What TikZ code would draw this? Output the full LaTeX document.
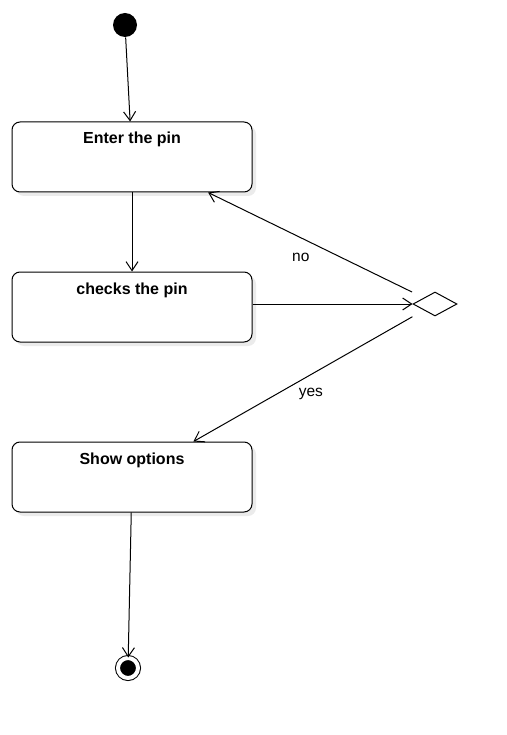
\documentclass[tikz,border=0pt]{standalone}
\usepackage{fontspec}
\setmainfont{Liberation Sans}
\usepackage{tikz}
\usetikzlibrary{shapes.geometric, arrows.meta, shadows}

\begin{document}
\begin{tikzpicture}[x=1pt, y=-1pt, line width=1pt,
        >={Straight Barb[length=9pt, width=12pt]},
        every node/.style={font=\fontsize{15.5}{18}\selectfont},
        state/.style={draw, fill=white, rounded corners=8pt, minimum width=240pt,
            text height=18pt, text depth=44pt, inner sep=4pt, font=\fontsize{16}{18}\selectfont\bfseries,
            drop shadow={shadow xshift=4pt, shadow yshift=-4pt, fill=black, opacity=0.08}},
        decision/.style={draw, fill=white, diamond, aspect=1.8, minimum width=44pt, minimum height=24pt, inner sep=0pt},
        initial/.style={circle, fill=black, minimum size=24pt, inner sep=0pt},
        final/.style={circle, draw=black, fill=black, double=white, double distance=4pt,
            minimum size=20pt, inner sep=0pt}]
        \useasboundingbox (0,0) rectangle (506,735);

        % Start and end
        \node (start) at (125,25) [initial] {};
        \node (finish) at (128,668) [final] {};

        % States
        \node (enter) at (132,157) [state] {Enter the pin};
        \node (check) at (132,307) [state] {checks the pin};
        \node (show) at (132,477) [state] {Show options};

        % Pin decision
        \node (pinok) at (435,304) [decision] {};

        \draw[->] (start) -- (enter);
        \draw[->] (enter) -- (check);
        \draw[->] (check.east |- pinok) -- (pinok.west);
        \draw[->, shorten <=13pt] (pinok.north west) -- node[pos=0.57, yshift=-20pt] {no} (enter.-25.6);
        \draw[->, shorten <=13pt] (pinok.south west) -- node[pos=0.49, yshift=-19pt] {yes} (show.30.4);
        \draw[->] (show) -- (finish);
    \end{tikzpicture}
\end{document}
